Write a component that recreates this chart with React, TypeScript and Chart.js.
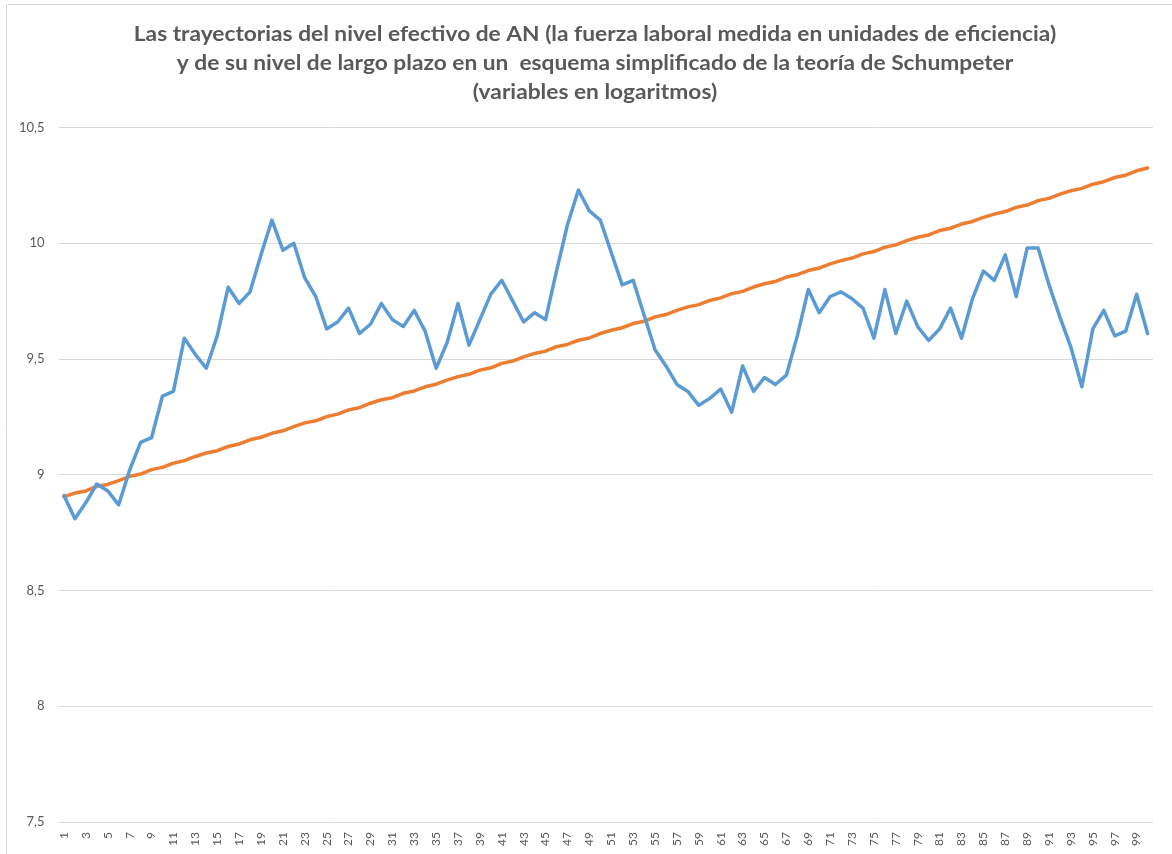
import React, { useEffect, useRef } from "react";
import { Chart, registerables } from "chart.js";

Chart.register(...registerables);

const TITLE_LINES = [
  "Las trayectorias del nivel efectivo de AN (la fuerza laboral medida en unidades de eficiencia)",
  "y de su nivel de largo plazo en un  esquema simplificado de la teoría de Schumpeter",
  "(variables en logaritmos)",
];

const PERIODS = Array.from({ length: 100 }, (_, i) => String(i + 1));

const NIVEL_EFECTIVO = [
  8.91, 8.81, 8.88, 8.96, 8.93, 8.87, 9.02, 9.14, 9.16, 9.34,
  9.36, 9.59, 9.52, 9.46, 9.6, 9.81, 9.74, 9.79, 9.95, 10.1,
  9.97, 10.0, 9.85, 9.77, 9.63, 9.66, 9.72, 9.61, 9.65, 9.74,
  9.67, 9.64, 9.71, 9.62, 9.46, 9.57, 9.74, 9.56, 9.67, 9.78,
  9.84, 9.75, 9.66, 9.7, 9.67, 9.88, 10.08, 10.23, 10.14, 10.1,
  9.96, 9.82, 9.84, 9.69, 9.54, 9.47, 9.39, 9.36, 9.3, 9.33,
  9.37, 9.27, 9.47, 9.36, 9.42, 9.39, 9.43, 9.6, 9.8, 9.7,
  9.77, 9.79, 9.76, 9.72, 9.59, 9.8, 9.61, 9.75, 9.64, 9.58,
  9.63, 9.72, 9.59, 9.76, 9.88, 9.84, 9.95, 9.77, 9.98, 9.98,
  9.82, 9.68, 9.55, 9.38, 9.63, 9.71, 9.6, 9.62, 9.78, 9.61,
];

const NIVEL_LARGO_PLAZO = [
  8.905, 8.921, 8.93, 8.95, 8.958, 8.975, 8.993, 9.003, 9.022, 9.032,
  9.05, 9.061, 9.079, 9.094, 9.104, 9.122, 9.133, 9.151, 9.162, 9.179,
  9.19, 9.208, 9.224, 9.233, 9.251, 9.262, 9.28, 9.29, 9.309, 9.324,
  9.333, 9.352, 9.362, 9.38, 9.391, 9.409, 9.424, 9.434, 9.452, 9.462,
  9.481, 9.491, 9.509, 9.524, 9.534, 9.553, 9.563, 9.581, 9.591, 9.61,
  9.624, 9.635, 9.653, 9.663, 9.682, 9.692, 9.71, 9.725, 9.735, 9.753,
  9.764, 9.782, 9.792, 9.811, 9.825, 9.835, 9.854, 9.864, 9.882, 9.893,
  9.911, 9.925, 9.936, 9.954, 9.964, 9.983, 9.993, 10.011, 10.026, 10.036,
  10.055, 10.065, 10.083, 10.094, 10.112, 10.126, 10.137, 10.155, 10.165, 10.184,
  10.194, 10.212, 10.227, 10.237, 10.255, 10.266, 10.284, 10.294, 10.313, 10.325,
];

const Y_MIN = 7.5;
const Y_MAX = 10.5;
const Y_STEP = 0.5;

const decorPlugin = {
  id: "decor",
  beforeDraw(chart: any) {
    const ctx = chart.ctx;
    ctx.save();
    ctx.fillStyle = "#ffffff";
    ctx.fillRect(0, 0, chart.width, chart.height);
    ctx.strokeStyle = "#d9d9d9";
    ctx.lineWidth = 1;
    ctx.beginPath();
    ctx.moveTo(6.5, chart.height);
    ctx.lineTo(6.5, 4.5);
    ctx.lineTo(chart.width, 4.5);
    ctx.stroke();
    ctx.restore();

    ctx.save();
    ctx.fillStyle = "#595959";
    ctx.font = "bold 20px Lato";
    ctx.textAlign = "center";
    ctx.textBaseline = "middle";
    ctx.translate(595, 0);
    ctx.scale(1.137, 1);
    TITLE_LINES.forEach((t, i) => ctx.fillText(t, 0, 35 + i * 29));
    ctx.restore();
  },
};

export default function App() {
  const ref = useRef<HTMLCanvasElement | null>(null);
  useEffect(() => {
    document.body.style.margin = "0";
    const canvas = ref.current!;
    const chart = new Chart(canvas, {
      type: "line",
      data: {
        labels: PERIODS,
        datasets: [
          {
            label: "Nivel efectivo",
            data: NIVEL_EFECTIVO,
            borderColor: "#5B9BD5",
            backgroundColor: "#5B9BD5",
            borderWidth: 3.5,
            pointRadius: 0,
            tension: 0,
            borderJoinStyle: "round",
            borderCapStyle: "round",
          },
          {
            label: "Nivel de largo plazo",
            data: NIVEL_LARGO_PLAZO,
            borderColor: "#ED7D31",
            backgroundColor: "#ED7D31",
            borderWidth: 3.5,
            pointRadius: 0,
            tension: 0,
            borderJoinStyle: "round",
            borderCapStyle: "round",
          },
        ],
      },
      options: {
        responsive: false,
        animation: false,
        devicePixelRatio: 1,
        layout: { padding: { top: 127.5, right: 6, left: 0, bottom: 0 } },
        plugins: {
          legend: { display: false },
          tooltip: { enabled: false },
          title: { display: false },
        },
        scales: {
          x: {
            type: "category",
            offset: true,
            grid: { display: false, drawTicks: false },
            border: { display: false },
            afterFit: (s: any) => {
              s.height = 32;
            },
            ticks: {
              autoSkip: false,
              minRotation: 90,
              maxRotation: 90,
              padding: 10,
              color: "#595959",
              font: { family: "Lato", size: 12 },
              callback: (_v: any, i: number) => (i % 2 === 0 ? PERIODS[i] : ""),
            },
          },
          y: {
            min: Y_MIN,
            max: Y_MAX,
            grid: { color: "#d9d9d9", lineWidth: 1, drawTicks: false },
            border: { display: false },
            afterFit: (s: any) => {
              s.width = 58.5;
            },
            ticks: {
              stepSize: Y_STEP,
              padding: 14,
              color: "#595959",
              font: { family: "Lato", size: 13 },
              callback: (v: any) => String(v).replace(".", ","),
            },
          },
        },
      },
      plugins: [decorPlugin],
    });
    return () => chart.destroy();
  }, []);
  return (
    <div style={{ position: "fixed", left: 0, top: 0, width: 1172, height: 854 }}>
      <canvas ref={ref} width={1172} height={854} style={{ width: 1172, height: 854 }} />
    </div>
  );
}
